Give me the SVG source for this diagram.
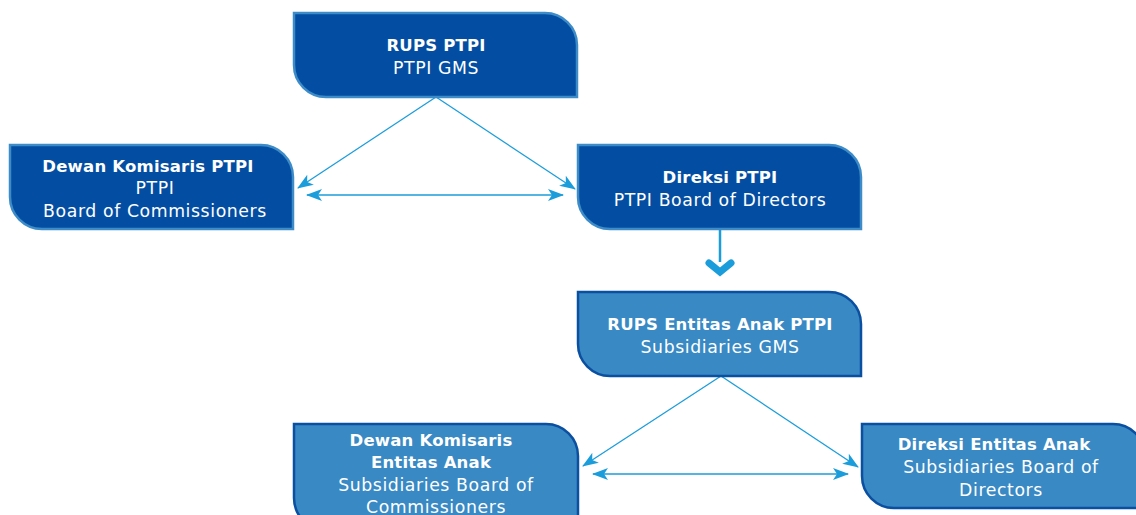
<svg xmlns="http://www.w3.org/2000/svg" width="1136" height="515" viewBox="0 0 1136 515">
<defs>
<style>
.dk{fill:#034ea2;stroke:#3d8cc8;stroke-width:2.5}
.lt{fill:#3889c4;stroke:#0a4fa0;stroke-width:2.5}
text{font-family:"DejaVu Sans","Liberation Sans",sans-serif;fill:#ffffff;text-anchor:middle;font-size:17.3px;letter-spacing:0.6px}
.b{font-weight:700;font-size:16.5px;letter-spacing:0.2px}
.c{fill:none;stroke:#1b9ddb;stroke-width:1.3}
</style>
<marker id="ah" viewBox="0 0 16 12" refX="15" refY="6" markerWidth="16" markerHeight="12" markerUnits="userSpaceOnUse" orient="auto-start-reverse">
<path d="M0,0 L16,6 L0,12 L4,6 Z" fill="#1b9ddb"/>
</marker>
</defs>
<g id="connectors">
<line class="c" x1="436" y1="97" x2="298" y2="188" marker-end="url(#ah)"/>
<line class="c" x1="436" y1="97" x2="575" y2="189" marker-end="url(#ah)"/>
<line class="c" x1="307" y1="195" x2="563" y2="195" marker-start="url(#ah)" marker-end="url(#ah)"/>
<line class="c" x1="720" y1="229" x2="720" y2="262" style="stroke-width:2.5"/>
<path d="M709,263 L720,272 L731,263" fill="none" stroke="#1b9ddb" stroke-width="7" stroke-linecap="round" stroke-linejoin="miter"/>
<line class="c" x1="721" y1="376" x2="583" y2="466" marker-end="url(#ah)"/>
<line class="c" x1="721" y1="376" x2="858" y2="467" marker-end="url(#ah)"/>
<line class="c" x1="593" y1="474" x2="848" y2="474" marker-start="url(#ah)" marker-end="url(#ah)"/>
</g>
<g id="rups-ptpi">
<path class="dk" d="M294,13 H545 A32,32 0 0 1 577,45 V97 H326 A32,32 0 0 1 294,65 Z"/>
<text class="b" x="436" y="51">RUPS PTPI</text>
<text x="436" y="74">PTPI GMS</text>
</g>
<g id="dekom-ptpi">
<path class="dk" d="M10,145 H261 A32,32 0 0 1 293,177 V229 H42 A32,32 0 0 1 10,197 Z"/>
<text class="b" x="148" y="172">Dewan Komisaris PTPI</text>
<text x="155" y="194">PTPI</text>
<text x="155" y="217">Board of Commissioners</text>
</g>
<g id="direksi-ptpi">
<path class="dk" d="M578,145 H829 A32,32 0 0 1 861,177 V229 H610 A32,32 0 0 1 578,197 Z"/>
<text class="b" x="720" y="183">Direksi PTPI</text>
<text x="720" y="206">PTPI Board of Directors</text>
</g>
<g id="rups-anak">
<path class="lt" d="M578,292 H829 A32,32 0 0 1 861,324 V376 H610 A32,32 0 0 1 578,344 Z"/>
<text class="b" x="720" y="330">RUPS Entitas Anak PTPI</text>
<text x="720" y="353">Subsidiaries GMS</text>
</g>
<g id="dekom-anak">
<path class="lt" d="M294,424 H546 A32,32 0 0 1 578,456 V530 H326 A32,32 0 0 1 294,498 Z"/>
<text class="b" x="431" y="446">Dewan Komisaris</text>
<text class="b" x="431" y="468">Entitas Anak</text>
<text x="436" y="491">Subsidiaries Board of</text>
<text x="436" y="513">Commissioners</text>
</g>
<g id="direksi-anak">
<path class="lt" d="M862,424 H1113 A32,32 0 0 1 1145,456 V508 H894 A32,32 0 0 1 862,476 Z"/>
<text class="b" x="994" y="450">Direksi Entitas Anak</text>
<text x="1001" y="473">Subsidiaries Board of</text>
<text x="1001" y="496">Directors</text>
</g>
</svg>
